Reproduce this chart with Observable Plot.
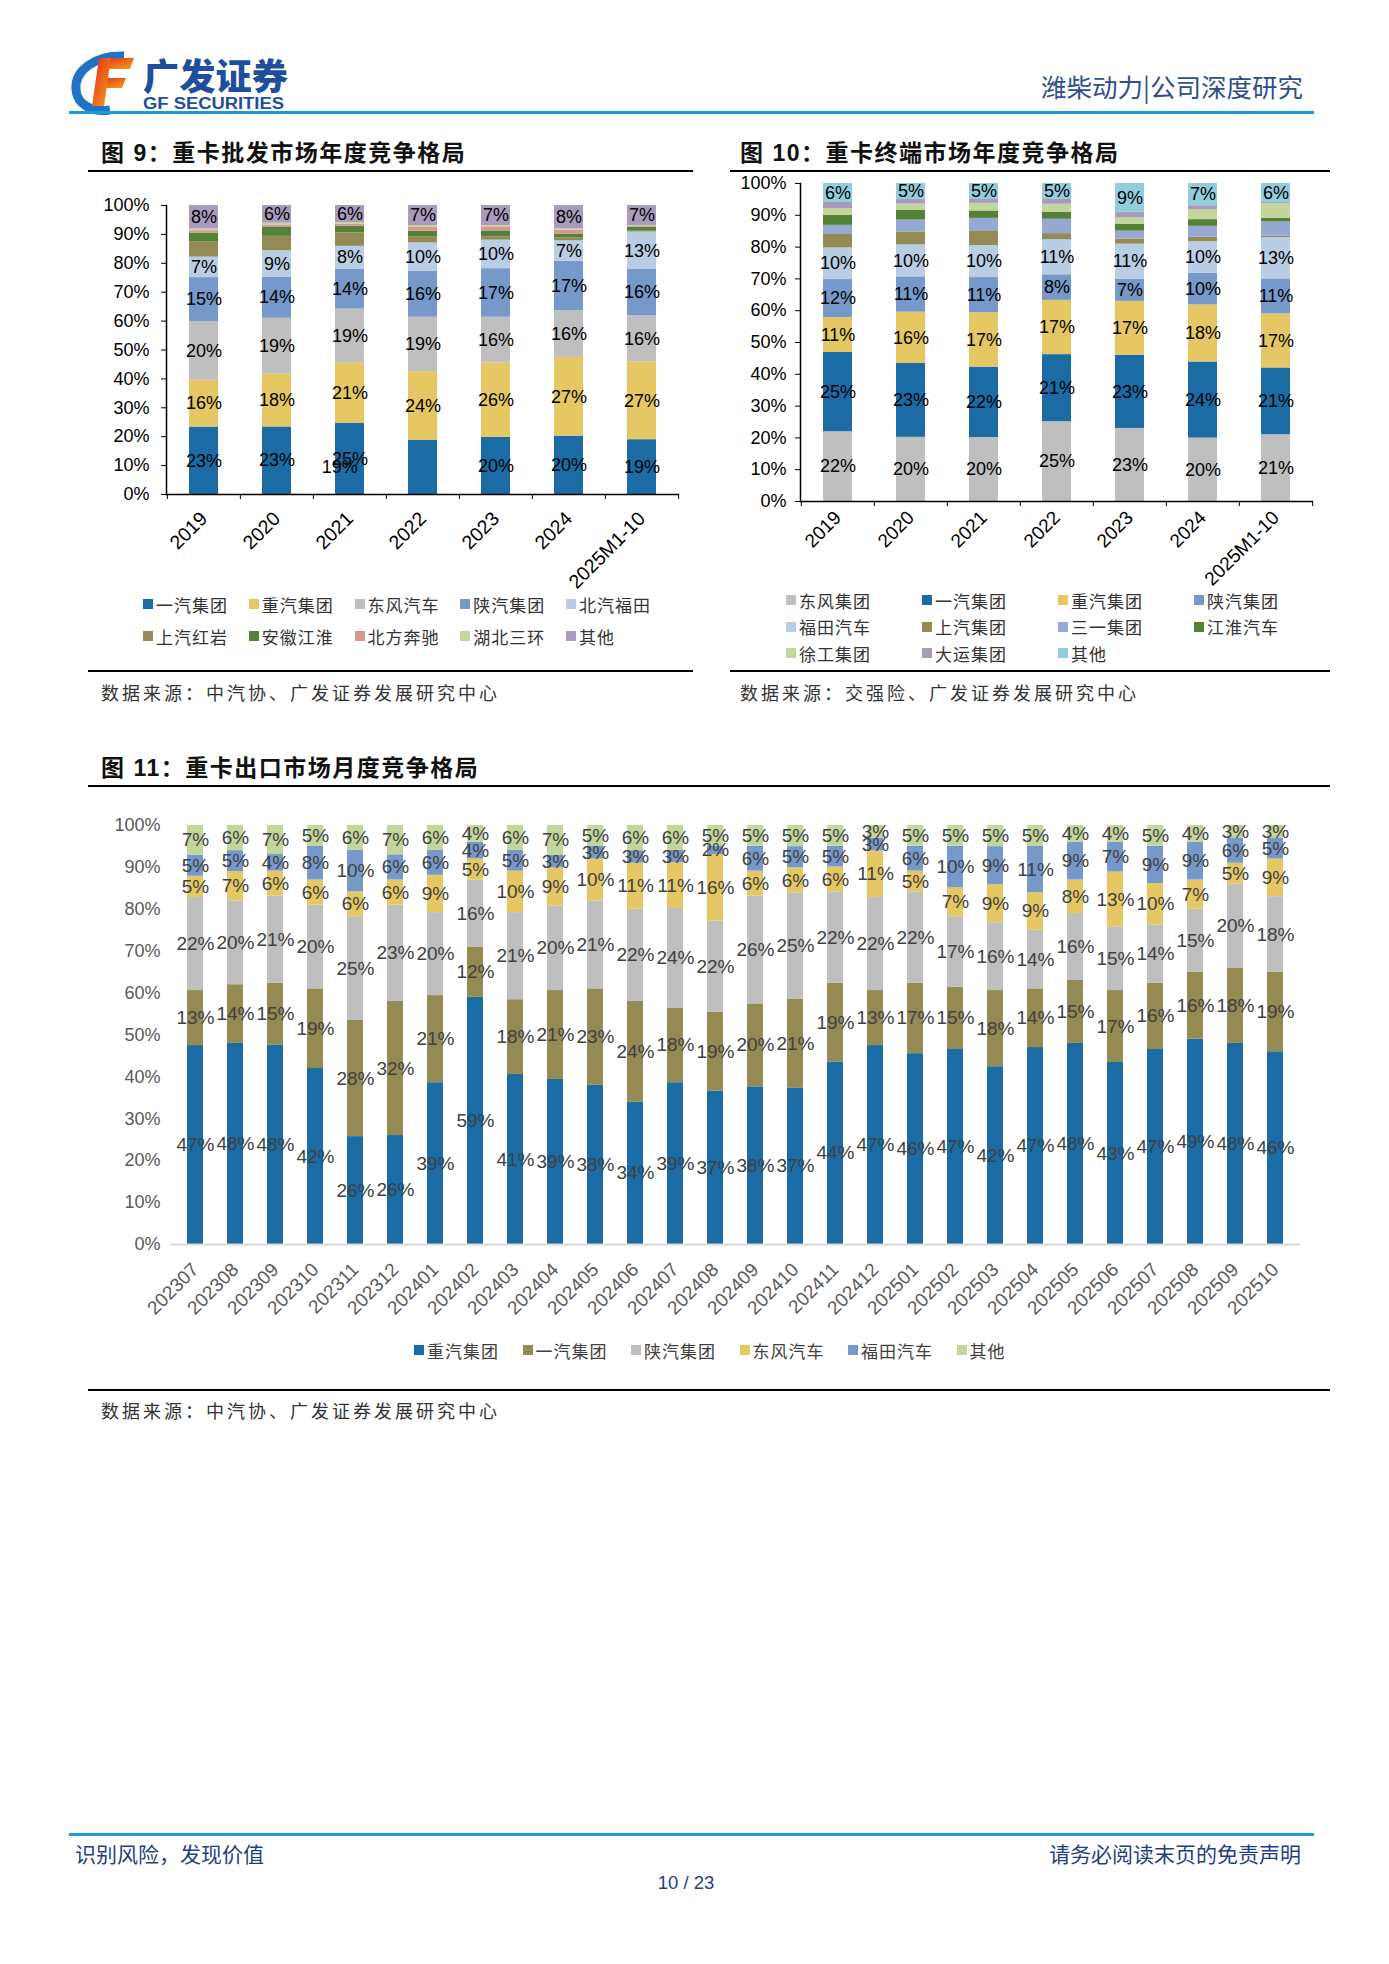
<!DOCTYPE html>
<html><head><meta charset="utf-8">
<script src="https://cdn.jsdelivr.net/npm/d3@7"></script>
<script src="https://cdn.jsdelivr.net/npm/@observablehq/plot@0.6"></script>
<style>
body{margin:0;background:#fff;}
#page{position:relative;width:1389px;height:1964px;overflow:hidden;background:#fff;font-family:"Noto Sans CJK SC",sans-serif;}
.abs{position:absolute;white-space:nowrap;}
.vc{transform:translateY(-50%);}
.ttl{font-family:"Liberation Sans","Noto Sans CJK SC",sans-serif;font-weight:700;font-size:23px;letter-spacing:1.5px;color:#111;}
.src{font-family:"Noto Sans CJK SC",sans-serif;font-size:18px;letter-spacing:3px;color:#333;}
.hr{position:absolute;height:2px;background:#000;}
.legend{position:absolute;display:grid;align-items:center;font-family:"Noto Sans CJK SC",sans-serif;font-size:17px;letter-spacing:1px;color:#333;}
.legend .it{display:flex;align-items:center;white-space:nowrap;}
.legend .sw{width:10px;height:10px;margin-right:3px;flex:none;}
.chart{position:absolute;}
</style>
</head>
<body>
<div id="page">
  <!-- header -->
  <svg class="abs" style="left:60px;top:45px" width="240" height="72" viewBox="60 45 240 72">
    <defs>
      <linearGradient id="gf" x1="0" y1="0" x2="1" y2="1">
        <stop offset="0" stop-color="#E3261C"/><stop offset="1" stop-color="#F7A21B"/>
      </linearGradient>
    </defs>
    <path d="M124 56 C96 55 74 70 76 90 C77 104 92 113 110 110" stroke="#1F72C4" stroke-width="9" fill="none"/>
    <path d="M100 58 L134 58 L130 69 L98 69 Z" fill="url(#gf)"/>
    <path d="M97 78 L126 78 L122 88 L95 88 Z" fill="url(#gf)"/>
    <path d="M99 58 L111 58 L104 106 L92 106 Z" fill="url(#gf)"/>
    <text x="143" y="90" font-family="Noto Sans CJK SC" font-weight="900" font-size="36" fill="#1D4F9E" textLength="145" lengthAdjust="spacingAndGlyphs">广发证券</text>
    <text x="143" y="109" font-family="Liberation Sans" font-weight="700" font-size="16" fill="#1D4F9E" textLength="141" lengthAdjust="spacingAndGlyphs">GF SECURITIES</text>
  </svg>
  <div class="abs vc" style="right:86px;top:85px;font-size:25.5px;color:#2F4E8C;">潍柴动力|公司深度研究</div>
  <div class="abs" style="left:69px;top:111px;width:1245px;height:3px;background:#1E9AD6;"></div>

  <!-- titles -->
  <div class="abs vc ttl" style="left:101px;top:151px;">图 9：重卡批发市场年度竞争格局</div>
  <div class="hr" style="left:88px;top:170px;width:605px;"></div>
  <div class="abs vc ttl" style="left:740px;top:151px;">图 10：重卡终端市场年度竞争格局</div>
  <div class="hr" style="left:730px;top:170px;width:600px;"></div>

  <div id="c9" class="chart" style="left:88px;top:185px;width:605px;"></div>
  <div id="c10" class="chart" style="left:730px;top:165px;width:605px;"></div>
  <div id="lg9" class="legend"></div>
  <div id="lg10" class="legend"></div>

  <div class="hr" style="left:88px;top:670px;width:605px;"></div>
  <div class="abs vc src" style="left:101px;top:692px;">数据来源：中汽协、广发证券发展研究中心</div>
  <div class="hr" style="left:730px;top:670px;width:600px;"></div>
  <div class="abs vc src" style="left:740px;top:692px;">数据来源：交强险、广发证券发展研究中心</div>

  <div class="abs vc ttl" style="left:101px;top:766px;">图 11：重卡出口市场月度竞争格局</div>
  <div class="hr" style="left:88px;top:785px;width:1242px;"></div>
  <div id="c11" class="chart" style="left:88px;top:805px;width:1247px;"></div>
  <div id="lg11" class="legend"></div>
  <div class="hr" style="left:88px;top:1389px;width:1242px;"></div>
  <div class="abs vc src" style="left:101px;top:1410px;">数据来源：中汽协、广发证券发展研究中心</div>

  <!-- footer -->
  <div class="abs" style="left:69px;top:1833px;width:1245px;height:3px;background:#1E9AD6;"></div>
  <div class="abs vc" style="left:75px;top:1853px;font-size:21px;color:#1F3F80;">识别风险，发现价值</div>
  <div class="abs vc" style="right:88px;top:1853px;font-size:21px;color:#1F3F80;">请务必阅读末页的免责声明</div>
  <div class="abs" style="left:686px;top:1883px;transform:translate(-50%,-50%);font-family:'Liberation Sans',sans-serif;font-size:18.5px;color:#1F3F80;">10 / 23</div>
</div>

<script>
// ---------------- Figure 9: wholesale market (%) ----------------
const years = ["2019","2020","2021","2022","2023","2024","2025M1-10"];
const wsSeries = ["一汽集团","重汽集团","东风汽车","陕汽集团","北汽福田","上汽红岩","安徽江淮","北方奔驰","湖北三环","其他"];
const wsColors = ["#1B6BA5","#E5C863","#BFBFBF","#7699C9","#B9CDE5","#948A54","#538135","#D99694","#C3D69B","#A99BBD"];
const wsLabeled = ["一汽集团","重汽集团","东风汽车","陕汽集团","北汽福田","其他"];
const ws_faw      = [23,23,25,19,20,20,19];
const ws_sinotruk = [16,18,21,24,26,27,27];
const ws_dongfeng = [20,19,19,19,16,16,16];
const ws_shacman  = [15,14,14,16,17,17,16];
const ws_foton    = [7,9,8,10,10,7,13];
const ws_hongyan  = [5.1,4.9,4.7,2.2,1.1,1.0,0.3];
const ws_jac      = [3.1,3.2,2.3,1.9,2.1,1.3,1.3];
const ws_benz     = [0.8,0.7,0.8,1.3,1.4,1.3,0.3];
const ws_sanhuan  = [0.6,0.6,0.5,0.7,0.5,0.5,0.3];
const ws_other    = [8,6,6,7,7,8,7];
// label drawn displaced to the neighbouring column in the source
const wsDisplaced = {series: "一汽集团", year: "2022"};

// ---------------- Figure 10: retail market (%) ----------------
const rtSeries = ["东风集团","一汽集团","重汽集团","陕汽集团","福田汽车","上汽集团","三一集团","江淮汽车","徐工集团","大运集团","其他"];
const rtColors = ["#BFBFBF","#1B6BA5","#E5C863","#7699C9","#B9CDE5","#948A54","#95A9D2","#538135","#C3D69B","#A99BBD","#93CDDD"];
const rtLabeled = ["东风集团","一汽集团","重汽集团","陕汽集团","福田汽车","其他"];
const rt_dongfeng = [22,20,20,25,23,20,21];
const rt_faw      = [25,23,22,21,23,24,21];
const rt_sinotruk = [11,16,17,17,17,18,17];
const rt_shacman  = [12,11,11,8,7,10,11];
const rt_foton    = [10,10,10,11,11,10,13];
const rt_saic     = [4.2,4.0,4.4,1.9,1.6,1.4,0.4];
const rt_sany     = [2.9,3.7,4.1,4.5,2.5,3.4,4.5];
const rt_jac      = [3.1,3.1,2.3,2.2,2.2,2.1,1.2];
const rt_xcmg     = [2.2,1.9,2.4,2.5,2.0,3.2,4.6];
const rt_dayun    = [1.9,1.4,1.2,1.5,1.8,1.2,0.3];
const rt_other    = [6,5,5,5,9,7,6];

// ---------------- Figure 11: export market, monthly (%) ----------------
const months = ["202307","202308","202309","202310","202311","202312","202401","202402","202403","202404",
  "202405","202406","202407","202408","202409","202410","202411","202412","202501","202502",
  "202503","202504","202505","202506","202507","202508","202509","202510"];
const exSeries = ["重汽集团","一汽集团","陕汽集团","东风汽车","福田汽车","其他"];
const exColors = ["#1B6BA5","#948A54","#BFBFBF","#E5C863","#7699C9","#C3D69B"];
const ex_sinotruk = [47,48,48,42,26,26,39,59,41,39,38,34,39,37,38,37,44,47,46,47,42,47,48,43,47,49,48,46];
const ex_faw      = [13,14,15,19,28,32,21,12,18,21,23,24,18,19,20,21,19,13,17,15,18,14,15,17,16,16,18,19];
const ex_shacman  = [22,20,21,20,25,23,20,16,21,20,21,22,24,22,26,25,22,22,22,17,16,14,16,15,14,15,20,18];
const ex_dongfeng = [5,7,6,6,6,6,9,5,10,9,10,11,11,16,6,6,6,11,5,7,9,9,8,13,10,7,5,9];
const ex_foton    = [5,5,4,8,10,6,6,4,5,3,3,3,3,2,6,5,5,3,6,10,9,11,9,7,9,9,6,5];
const ex_other    = [7,6,7,5,6,7,6,4,6,7,5,6,6,5,5,5,5,3,5,5,5,5,4,4,5,4,3,3];

const pctTicks = d3.range(0, 11).map(i => i / 10);
const pctFmt = d => Math.round(d * 100) + "%";

function buildRows(cats, series, valueArrays, labeled) {
  const rows = [];
  series.forEach((s, si) => {
    cats.forEach((c, ci) => {
      rows.push({cat: c, series: s, value: valueArrays[si][ci], labeled: labeled.includes(s)});
    });
  });
  return rows;
}

function legend(id, series, colors, left, top, colW, rowH, cols) {
  const el = document.getElementById(id);
  el.style.left = left + "px";
  el.style.top = top + "px";
  el.style.gridTemplateColumns = `repeat(${cols}, ${colW}px)`;
  el.style.gridAutoRows = rowH + "px";
  series.forEach((s, i) => {
    const it = document.createElement("div");
    it.className = "it";
    it.innerHTML = `<span class="sw" style="background:${colors[i]}"></span><span>${s}</span>`;
    el.appendChild(it);
  });
}

function yearChart({rows, series, colors, width, height, mL, mR, mT, mB, tickPad, labelPad, labelSize, displaced}) {
  const step = (width - mL - mR) / years.length;
  const stackOpts = {offset: "normalize", order: series};
  const isDisp = d => displaced && d.series === displaced.series && d.cat === displaced.year;
  return Plot.plot({
    width, height, marginLeft: mL, marginRight: mR, marginTop: mT, marginBottom: mB,
    x: {domain: years, paddingInner: 0.6, paddingOuter: 0.3, label: null},
    y: {domain: [0, 1], label: null},
    color: {domain: series, range: colors},
    style: {fontFamily: "'Liberation Sans', Arial, sans-serif", fontSize: "18px", color: "#000", background: "transparent", overflow: "visible"},
    marks: [
      Plot.barY(rows, Plot.stackY(stackOpts, {x: "cat", y: "value", fill: "series"})),
      Plot.text(rows, Plot.stackY(stackOpts, {x: "cat", y: "value", z: "series",
        text: d => (d.labeled && !isDisp(d)) ? d.value + "%" : null, fill: "#000", fontSize: 18})),
      Plot.text(rows, Plot.stackY(stackOpts, {x: "cat", y: "value", z: "series",
        text: d => isDisp(d) ? d.value + "%" : null, fill: "#000", fontSize: 18, dx: -step - 10})),
      Plot.axisY({ticks: pctTicks, tickFormat: pctFmt, tickSize: 5, tickPadding: tickPad, fontSize: 18}),
      Plot.axisX({ticks: years, tickSize: 5, tickFormat: () => "", dx: -step / 2}),
      Plot.axisX({ticks: [years[years.length - 1]], tickSize: 5, tickFormat: () => "", dx: step / 2}),
      Plot.axisX({tickSize: 0, tickRotate: -45, tickPadding: labelPad, fontSize: labelSize}),
      Plot.frame({anchor: "left", stroke: "#000", strokeWidth: 1.5}),
      Plot.ruleY([0], {stroke: "#000", strokeWidth: 1.5})
    ]
  });
}

// Figure 9
const wsRows = buildRows(years, wsSeries,
  [ws_faw, ws_sinotruk, ws_dongfeng, ws_shacman, ws_foton, ws_hongyan, ws_jac, ws_benz, ws_sanhuan, ws_other], wsLabeled);
document.getElementById("c9").appendChild(yearChart({
  rows: wsRows, series: wsSeries, colors: wsColors,
  width: 605, height: 400, mL: 78, mR: 14, mT: 20, mB: 91, tickPad: 12, labelPad: 21, labelSize: 19.5, displaced: wsDisplaced
}));
legend("lg9", wsSeries, wsColors, 143, 588, 105.75, 32, 5);

// Figure 10
const rtRows = buildRows(years, rtSeries,
  [rt_dongfeng, rt_faw, rt_sinotruk, rt_shacman, rt_foton, rt_saic, rt_sany, rt_jac, rt_xcmg, rt_dayun, rt_other], rtLabeled);
document.getElementById("c10").appendChild(yearChart({
  rows: rtRows, series: rtSeries, colors: rtColors,
  width: 605, height: 420, mL: 70, mR: 22, mT: 18, mB: 84, tickPad: 9, labelPad: 13, labelSize: 19, displaced: null
}));
legend("lg10", rtSeries, rtColors, 786, 587, 136, 26.5, 4);

// Figure 11
const exRows = buildRows(months, exSeries,
  [ex_sinotruk, ex_faw, ex_shacman, ex_dongfeng, ex_foton, ex_other], exSeries);
const exStack = {offset: "normalize", order: exSeries};
document.getElementById("c11").appendChild(Plot.plot({
  width: 1247, height: 525, marginLeft: 82, marginRight: 35, marginTop: 20, marginBottom: 86,
  x: {domain: months, paddingInner: 0.6, paddingOuter: 0.3, label: null},
  y: {domain: [0, 1], label: null},
  color: {domain: exSeries, range: exColors},
  style: {fontFamily: "'Liberation Sans', Arial, sans-serif", fontSize: "18px", color: "#595959", background: "transparent", overflow: "visible"},
  marks: [
    Plot.barY(exRows, Plot.stackY(exStack, {x: "cat", y: "value", fill: "series"})),
    Plot.ruleY([0], {stroke: "#D9D9D9", strokeWidth: 2}),
    Plot.text(exRows, Plot.stackY(exStack, {x: "cat", y: "value", z: "series",
      text: d => d.value + "%", fill: "#404040", fontSize: 19})),
    Plot.axisY({ticks: pctTicks, tickFormat: pctFmt, tickSize: 0, tickPadding: 10, fontSize: 18}),
    Plot.axisX({tickSize: 0, tickRotate: -45, tickPadding: 22, fontSize: 19})
  ]
}));
legend("lg11", exSeries, exColors, 414, 1334, 108.5, 32, 6);
document.getElementById("lg11").style.color = "#404040";
</script>
</body></html>
